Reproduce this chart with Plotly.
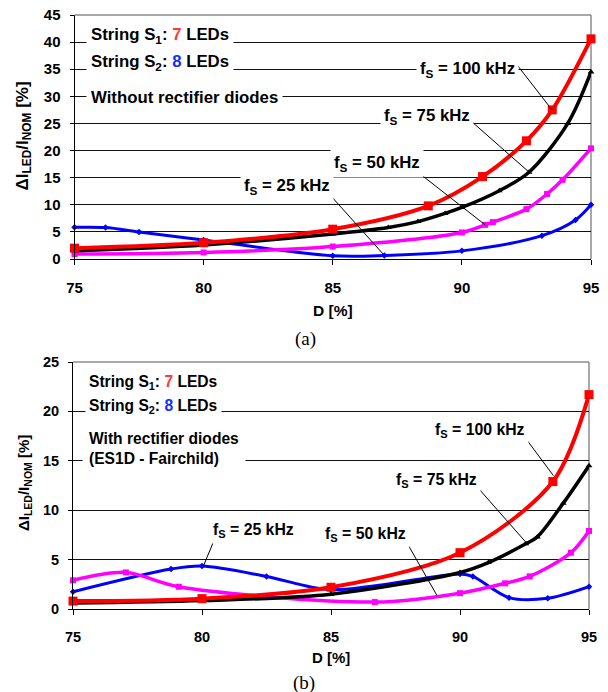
import plotly.graph_objects as go

# ---------------- data: (a) without rectifier diodes ----------------
a_d_100 = [75, 80, 85, 88.7, 90.8, 92.5, 93.5, 95]
a_v_100 = [2.0, 3.0, 5.5, 9.8, 15.2, 21.8, 27.5, 40.6]
a_d_75 = [75, 80, 85, 87.15, 88.3, 89.35, 90, 91.45, 92.6, 94.1, 95]
a_v_75 = [1.5, 2.6, 4.6, 5.8, 6.9, 8.4, 9.5, 12.6, 16.0, 25.0, 34.5]
a_d_50 = [75, 80, 85, 90, 90.9, 91.2, 92.5, 93.3, 93.9, 95]
a_v_50 = [0.9, 1.2, 2.3, 4.9, 6.3, 6.8, 9.2, 12.0, 14.6, 20.4]
a_d_25 = [75, 76.2, 77.5, 80, 85, 87, 90, 93.1, 94.4, 95]
a_v_25 = [5.85, 5.8, 5.0, 3.5, 0.6, 0.65, 1.5, 4.3, 7.2, 10.0]

# ---------------- data: (b) with rectifier diodes ----------------
b_d_100 = [75, 80, 85, 90, 93.6, 95]
b_v_100 = [0.8, 1.05, 2.2, 5.7, 12.9, 21.7]
b_d_75 = [75, 80, 85, 90, 91.1, 92.55, 93.0, 94.0, 95]
b_v_75 = [0.6, 0.85, 1.5, 3.7, 4.7, 6.6, 7.3, 10.7, 14.5]
b_d_50 = [75, 77.05, 79.1, 86.7, 90, 91.75, 92.7, 94.3, 95]
b_v_50 = [2.9, 3.7, 2.25, 0.7, 1.6, 2.6, 3.3, 5.7, 7.9]
b_d_25 = [75, 78.8, 80, 82.5, 85, 90, 90.5, 91.9, 93.4, 95]
b_v_25 = [1.75, 4.05, 4.35, 3.3, 1.95, 3.55, 3.3, 1.15, 1.08, 2.25]

x_ticks = [75, 80, 85, 90, 95]

RED, BLK, MAG, BLU = "#FF0000", "#000000", "#FF00FF", "#0000FF"
FONT = "Arial, Liberation Sans, sans-serif"
SERIF = "Times New Roman, Liberation Serif, serif"

styles = {
    "25": dict(color=BLU, symbol="diamond", size=5, width=3),
    "50": dict(color=MAG, symbol="square", size=6, width=3.5),
    "75": dict(color=BLK, symbol="triangle-up", size=6, width=3.5),
    "100": dict(color=RED, symbol="square", size=9, width=4),
}

fig = go.Figure()


def add(xs, ys, key, xa, ya):
    s = styles[key]
    fig.add_trace(go.Scatter(
        x=xs, y=ys, mode="lines+markers", xaxis=xa, yaxis=ya,
        line=dict(color=s["color"], width=s["width"], shape="spline", smoothing=0.9),
        marker=dict(color=s["color"], symbol=s["symbol"], size=s["size"]),
        cliponaxis=False, hoverinfo="skip"))


add(a_d_25, a_v_25, "25", "x", "y")
add(a_d_50, a_v_50, "50", "x", "y")
add(a_d_75, a_v_75, "75", "x", "y")
add(a_d_100, a_v_100, "100", "x", "y")
add(b_d_25, b_v_25, "25", "x2", "y2")
add(b_d_50, b_v_50, "50", "x2", "y2")
add(b_d_75, b_v_75, "75", "x2", "y2")
add(b_d_100, b_v_100, "100", "x2", "y2")

W, H = 608, 692
XD_A = [74.5 / W, 591 / W]
YD_A = [1 - 259 / H, 1 - 15 / H]
XD_B = [73 / W, 589 / W]
YD_B = [1 - 609 / H, 1 - 362 / H]


def xaxis(dom, anchor, size):
    return dict(domain=dom, range=[75, 95], anchor=anchor, tickvals=x_ticks,
                showgrid=False, zeroline=False, showline=True, linecolor="black",
                linewidth=1, ticks="outside", ticklen=5, tickcolor="black",
                ticklabelstandoff=10, automargin=False,
                tickfont=dict(family=FONT, size=size, color="black", weight="bold"))


def yaxis(dom, anchor, top, size):
    return dict(domain=dom, range=[0, top], anchor=anchor, dtick=5, tick0=0,
                showgrid=True, gridcolor="#111111", gridwidth=1, zeroline=False,
                showline=True, linecolor="black", linewidth=1, ticks="outside",
                ticklen=4, tickcolor="black", ticklabelstandoff=6, automargin=False,
                tickfont=dict(family=FONT, size=size, color="black", weight="bold"))


fig.update_layout(
    width=W, height=H, margin=dict(l=0, r=0, t=0, b=0, autoexpand=False),
    paper_bgcolor="white", plot_bgcolor="white", showlegend=False,
    xaxis=xaxis(XD_A, "y", 15),
    yaxis=yaxis(YD_A, "x", 45, 15),
    xaxis2=xaxis(XD_B, "y2", 14.5),
    yaxis2=yaxis(YD_B, "x2", 25, 14.5),
)

# gray plot-area frame (top and right)
for xd, yd in ((XD_A, YD_A), (XD_B, YD_B)):
    fig.add_shape(type="line", xref="paper", yref="paper", x0=xd[0], x1=xd[1],
                  y0=yd[1], y1=yd[1], line=dict(color="#8c8c8c", width=1.5), layer="above")
    fig.add_shape(type="line", xref="paper", yref="paper", x0=xd[1], x1=xd[1],
                  y0=yd[0], y1=yd[1], line=dict(color="#8c8c8c", width=1.5), layer="below")

# frequency labels with leader lines: (text, label_x, label_y, x0, y0, x1, y1)
labels_a = [
    ("100", 90.2, 35.0, 92.17, 35.6, 93.49, 27.5),
    ("75", 88.65, 26.2, 90.39, 25.3, 92.63, 15.9),
    ("50", 86.71, 17.7, 88.3, 16.0, 90.9, 6.3),
    ("25", 83.23, 13.3, 85.0, 11.25, 87.02, 0.55),
]
labels_b = [
    ("100", 90.78, 18.1, 92.48, 17.5, 93.62, 13.5),
    ("75", 89.07, 13.0, 90.65, 12.4, 92.59, 6.65),
    ("50", 86.32, 7.5, 87.9, 6.9, 89.1, 1.4),
    ("25", 81.99, 7.9, 80.5, 7.15, 80.07, 4.45),
]

for labels, xr, yr, fs in ((labels_a, "x", "y", 16.8), (labels_b, "x2", "y2", 15.8)):
    for txt, lx, ly, x0, y0, x1, y1 in labels:
        fig.add_shape(type="line", xref=xr, yref=yr, x0=x0, y0=y0, x1=x1, y1=y1,
                      line=dict(color="black", width=1), layer="above")
        fig.add_annotation(xref=xr, yref=yr, x=lx, y=ly, showarrow=False,
                           xanchor="center", yanchor="middle",
                           text=f"<b>f<sub>S</sub> = {txt} kHz</b>",
                           font=dict(family=FONT, size=fs, color="black"),
                           bgcolor="white", borderpad=3)

# description blocks
desc_a = [
    ("String S<sub>1</sub>: <span style='color:#FF3B3B'>7</span> LEDs", 41.3),
    ("String S<sub>2</sub>: <span style='color:#1030FF'>8</span> LEDs", 36.3),
    ("Without rectifier diodes", 29.8),
]
for t, yv in desc_a:
    fig.add_annotation(xref="x", yref="y", x=75.45, y=yv, xanchor="left", yanchor="middle",
                       showarrow=False, text=f"<b>{t}</b>",
                       font=dict(family=FONT, size=16.8, color="black"),
                       bgcolor="white", borderpad=4)

desc_b = [
    ("String S<sub>1</sub>: <span style='color:#FF3B3B'>7</span> LEDs", 22.9),
    ("String S<sub>2</sub>: <span style='color:#1030FF'>8</span> LEDs", 20.5),
]
for t, yv in desc_b:
    fig.add_annotation(xref="x2", yref="y2", x=75.47, y=yv, xanchor="left", yanchor="middle",
                       showarrow=False, text=f"<b>{t}</b>",
                       font=dict(family=FONT, size=15.6, color="black"),
                       bgcolor="white", borderpad=3)
fig.add_annotation(xref="x2", yref="y2", x=75.35, y=16.25, xanchor="left", yanchor="middle",
                   showarrow=False, align="left",
                   text="<b>With rectifier diodes</b><br><b>(ES1D - Fairchild)</b>",
                   font=dict(family=FONT, size=15.6, color="black"),
                   bgcolor="white", borderpad=6)

# axis titles and captions (paper coordinates, explicit anchors)
paper_texts = [
    (23.5, 136, "<b>ΔI<sub>LED</sub>/I<sub>NOM</sub> [%]</b>", FONT, 17, -90),
    (24, 483, "<b>ΔI<sub>LED</sub>/I<sub>NOM</sub> [%]</b>", FONT, 15, -90),
    (333, 310, "<b>D [%]</b>", FONT, 15.5, 0),
    (331, 657, "<b>D [%]</b>", FONT, 15, 0),
    (305, 339, "(a)", SERIF, 19, 0),
    (304, 683, "(b)", SERIF, 19, 0),
]
for px, py, t, fam, sz, ang in paper_texts:
    fig.add_annotation(xref="paper", yref="paper", x=px / W, y=1 - py / H,
                       xanchor="center", yanchor="middle", showarrow=False,
                       textangle=ang, text=t, font=dict(family=fam, size=sz, color="black"))

fig.write_html("out.html")
